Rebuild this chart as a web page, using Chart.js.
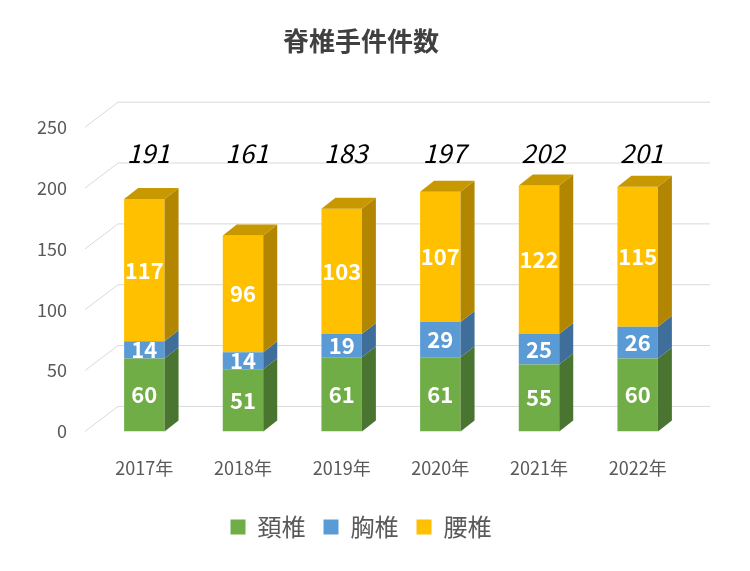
<!DOCTYPE html>
<html><head><meta charset="utf-8">
<script src="https://cdn.jsdelivr.net/npm/chart.js@4"></script>
<style>body{margin:0;background:#fff}#w{width:750px;height:571px}</style>
</head><body><div id="w"><canvas id="c"></canvas></div>
<script>
const categories = ['2017年','2018年','2019年','2020年','2021年','2022年'];
const cervical = [60,51,61,61,55,60];
const thoracic = [14,14,19,29,25,26];
const lumbar = [117,96,103,107,122,115];
const totals = [191,161,183,197,202,201];
const seriesNames = ['頚椎','胸椎','腰椎'];
const FONT = '"Noto Sans CJK JP","Noto Sans",sans-serif';
const fronts = ['#70AD47','#5B9BD5','#FFC000'];
const sides = ['#4A7530','#3E6E99','#B28600'];
const tops = ['#5E923B','#4D86BA','#C89800'];

const threeD = {
  id:'threeD',
  beforeDatasetsDraw(chart){
    const {ctx, chartArea:a, scales:{y}} = chart;
    ctx.save(); ctx.strokeStyle='#d9d9d9'; ctx.lineWidth=1;
    for(let v=0; v<=250; v+=50){
      const py=y.getPixelForValue(v);
      ctx.beginPath(); ctx.moveTo(a.left-10,py); ctx.lineTo(a.left+23,py-25); ctx.lineTo(a.right+23,py-25); ctx.stroke();
    }
    ctx.restore();
  },
  afterDatasetsDraw(chart){
    const {ctx, scales:{y}} = chart;
    const dx=14, dy=11;
    ctx.save();
    chart.data.datasets.forEach((ds,di)=>{
      chart.getDatasetMeta(di).data.forEach((b,i)=>{
        const l=b.x-b.width/2, r=b.x+b.width/2, t=b.y, bo=b.base;
        ctx.fillStyle=sides[di];
        ctx.beginPath(); ctx.moveTo(r,t); ctx.lineTo(r+dx,t-dy); ctx.lineTo(r+dx,bo-dy); ctx.lineTo(r,bo); ctx.closePath(); ctx.fill();
        if(di===2){
          ctx.fillStyle=tops[di];
          ctx.beginPath(); ctx.moveTo(l,t); ctx.lineTo(l+dx,t-dy); ctx.lineTo(r+dx,t-dy); ctx.lineTo(r,t); ctx.closePath(); ctx.fill();
        }
        ctx.fillStyle='#fff'; ctx.font='bold 22px '+FONT; ctx.textAlign='center'; ctx.textBaseline='middle';
        ctx.fillText(ds.data[i], b.x, (t+bo)/2);
      });
    });
    const meta=chart.getDatasetMeta(0);
    ctx.fillStyle='#000'; ctx.font='italic 26px '+FONT; ctx.textAlign='center'; ctx.textBaseline='middle';
    meta.data.forEach((b,i)=>ctx.fillText(totals[i], b.x+4, y.getPixelForValue(229)));
    ctx.restore();
  }
};

new Chart(document.getElementById('c'),{
  type:'bar',
  data:{labels:categories,datasets:[
    {label:seriesNames[0],data:cervical,backgroundColor:fronts[0]},
    {label:seriesNames[1],data:thoracic,backgroundColor:fronts[1]},
    {label:seriesNames[2],data:lumbar,backgroundColor:fronts[2]}
  ]},
  options:{responsive:true,maintainAspectRatio:false,animation:false,
    layout:{padding:{left:35,right:63,top:14,bottom:22}},
    datasets:{bar:{barPercentage:0.5,categoryPercentage:0.82}},
    scales:{
      x:{stacked:true,grid:{display:false},border:{display:false},
        ticks:{color:'#595959',font:{family:FONT,size:18},padding:18}},
      y:{stacked:true,min:0,max:250,grid:{display:false},border:{display:false},
        afterFit:s=>{s.width=60},
        ticks:{stepSize:50,color:'#595959',font:{family:FONT,size:18},padding:20}}
    },
    plugins:{
      title:{display:true,text:'脊椎手件件数',color:'#404040',font:{family:FONT,size:26,weight:'bold'},padding:{top:12,bottom:70}},
      legend:{position:'bottom',labels:{color:'#595959',font:{family:FONT,size:24},boxWidth:15,boxHeight:15,padding:18}},
      tooltip:{enabled:false}
    }
  },
  plugins:[threeD]
});
</script></body></html>
